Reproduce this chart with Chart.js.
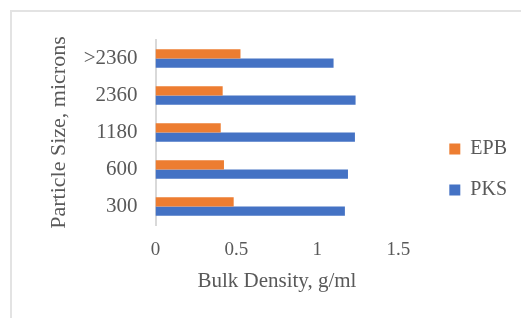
<!DOCTYPE html>
<html>
<head>
<meta charset="utf-8">
<script src="https://cdn.jsdelivr.net/npm/chart.js@4"></script>
<style>
  html, body { margin: 0; padding: 0; background: #fff; }
  #wrap { position: relative; width: 521px; height: 318px; overflow: hidden; }
  #frame { position: absolute; left: 10px; top: 10px; width: 600px; height: 400px; border: 2px solid #e3e3e3; }
  #chart { position: absolute; left: 0; top: 0; }
</style>
</head>
<body>
<div id="wrap">
  <div id="frame"></div>
  <canvas id="chart" width="521" height="318"></canvas>
</div>
<script>
// particle sizes, top to bottom as drawn
const sizes = ['>2360', '2360', '1180', '600', '300'];
// bulk density, g/ml
const epb = [0.525, 0.415, 0.403, 0.423, 0.483];
const pks = [1.10, 1.236, 1.232, 1.189, 1.170];

const textColor = '#595959';
const serif = '"Liberation Serif", "Times New Roman", serif';

// push the legend away from the plot, like the original layout
const legendGap = {
  id: 'legendGap',
  afterLayout(chart) {
    const shift = chart.chartArea.right + 30 - chart.legend.left;
    chart.legend.left += shift;
    chart.legend.right += shift;
  }
};

const ctx = document.getElementById('chart').getContext('2d');
new Chart(ctx, {
  type: 'bar',
  data: {
    labels: sizes,
    datasets: [
      { label: 'EPB', data: epb, backgroundColor: '#ED7D31' },
      { label: 'PKS', data: pks, backgroundColor: '#4472C4' }
    ]
  },
  options: {
    indexAxis: 'y',
    responsive: false,
    animation: false,
    categoryPercentage: 0.505,
    barPercentage: 1,
    layout: { padding: { left: 46, top: 40, right: 34, bottom: 19 } },
    plugins: {
      tooltip: { enabled: false },
      legend: {
        position: 'right',
        labels: {
          boxWidth: 11,
          boxHeight: 11,
          padding: 21,
          color: textColor,
          font: { family: serif, size: 20 }
        }
      }
    },
    scales: {
      x: {
        min: 0,
        max: 1.5,
        grid: { display: false, drawTicks: false },
        border: { display: false },
        ticks: {
          stepSize: 0.5,
          padding: 14,
          color: textColor,
          font: { family: serif, size: 19 },
          callback: v => String(v)
        },
        title: {
          display: true,
          text: 'Bulk Density, g/ml',
          color: textColor,
          font: { family: serif, size: 21 },
          padding: { top: 0, bottom: 5 }
        },
        afterFit(scale) { scale.height = 74; }
      },
      y: {
        grid: { display: false, drawTicks: false },
        border: { display: true, color: '#d9d9d9', width: 2 },
        ticks: { padding: 18, color: textColor, font: { family: serif, size: 21 } },
        title: {
          display: true,
          text: 'Particle Size, microns',
          color: textColor,
          font: { family: serif, size: 22 },
          padding: { top: 0, bottom: 4 }
        },
        afterFit(scale) { scale.width = 109.5; }
      }
    }
  },
  plugins: [legendGap]
});
</script>
</body>
</html>
